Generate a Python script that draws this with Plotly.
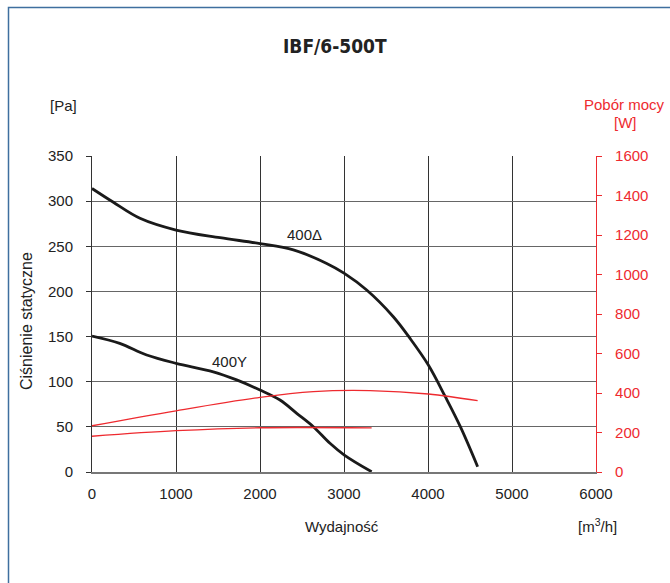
import plotly.graph_objects as go

# Data
flow_d = [0, 250, 571, 1000, 1524, 2000, 2397, 2794, 3004, 3270, 3587, 3786, 4004, 4206, 4385, 4591]
pres_d = [314, 299, 281, 268, 259.5, 253, 246, 231, 220, 201.6, 172, 148, 118.5, 83.4, 50.2, 5.9]

flow_y = [0, 330, 651, 1000, 1444, 1722, 2000, 2238, 2437, 2635, 2833, 3004, 3329]
pres_y = [150.6, 142.5, 129.6, 120.4, 111, 102, 90.8, 79.7, 65, 50.2, 31.8, 18.8, 0.3]

flow_pd = [0, 1000, 2000, 2635, 3310, 4004, 4591]
power_d = [234, 310, 378, 407, 412, 395, 361]

flow_py = [0, 1000, 2000, 3329]
power_y = [181, 209, 224, 223]

x_ticks = [0, 1000, 2000, 3000, 4000, 5000, 6000]
y_ticks = [0, 50, 100, 150, 200, 250, 300, 350]
y2_ticks = [0, 200, 400, 600, 800, 1000, 1200, 1400, 1600]

RED = "#ee2a2f"
BLACK = "#1a1a1a"
FONT = "Liberation Sans, Arial, sans-serif"
FS = 15

fig = go.Figure()
fig.add_trace(go.Scatter(x=flow_pd, y=power_d, mode="lines", yaxis="y2",
                         line=dict(color=RED, width=1.3, shape="spline"), hoverinfo="skip"))
fig.add_trace(go.Scatter(x=flow_py, y=power_y, mode="lines", yaxis="y2",
                         line=dict(color=RED, width=1.3, shape="spline"), hoverinfo="skip"))
fig.add_trace(go.Scatter(x=flow_d, y=pres_d, mode="lines",
                         line=dict(color=BLACK, width=2.8, shape="spline"), hoverinfo="skip"))
fig.add_trace(go.Scatter(x=flow_y, y=pres_y, mode="lines",
                         line=dict(color=BLACK, width=2.8, shape="spline"), hoverinfo="skip"))

fig.update_layout(
    width=670, height=583,
    margin=dict(l=92, r=74, t=156, b=111),
    paper_bgcolor="white", plot_bgcolor="white",
    showlegend=False,
    font=dict(family=FONT, size=FS, color="#222"),
    xaxis=dict(range=[0, 6000], tickvals=x_ticks, ticktext=[str(v) for v in x_ticks],
               showgrid=True, gridcolor="#333", gridwidth=1,
               showline=True, linecolor="#777", linewidth=1.5,
               ticks="", zeroline=False, ticklabelstandoff=7,
               tickfont=dict(size=FS)),
    yaxis=dict(range=[0, 350], tickvals=y_ticks, ticktext=[str(v) for v in y_ticks],
               showgrid=True, gridcolor="#666", gridwidth=1.3,
               showline=True, linecolor="#333", linewidth=1,
               ticks="outside", ticklen=5, tickcolor="#333", zeroline=False,
               ticklabelstandoff=10, tickfont=dict(size=FS)),
    yaxis2=dict(range=[0, 1600], tickvals=y2_ticks, ticktext=[str(v) for v in y2_ticks],
                overlaying="y", side="right", showgrid=False, zeroline=False,
                showline=True, linecolor=RED, linewidth=1.2,
                ticks="outside", ticklen=5, tickcolor=RED,
                ticklabelstandoff=10, tickfont=dict(color=RED, size=FS)),
)

fig.add_annotation(x=2531, y=263.6, text="400Δ", showarrow=False, font=dict(size=FS, color="#222"))
fig.add_annotation(x=1637, y=122.4, text="400Y", showarrow=False, font=dict(size=FS, color="#222"))


def px_x(p):
    return (p - 92) / 504.0


def px_y(p):
    return (472 - p) / 316.0


def label(px, py, text, size=FS, color="#222", family=None, angle=0):
    f = dict(size=size, color=color)
    if family:
        f["family"] = family
    fig.add_annotation(x=px_x(px), y=px_y(py), xref="paper", yref="paper", text=text,
                       xanchor="center", yanchor="middle", textangle=angle,
                       showarrow=False, font=f)


label(335, 46, "<b>IBF/6-500T</b>", size=19, family="DejaVu Sans Condensed, Liberation Sans, sans-serif")
label(63, 105, "[Pa]")
label(26, 321, "Ciśnienie statyczne", size=16, angle=-90)
label(624, 104, "Pobór mocy", color=RED)
label(625, 122, "[W]", color=RED)
label(342, 526, "Wydajność")
label(597, 525, "[m<sup>3</sup>/h]")

# Outer frame
fig.add_shape(type="rect", xref="paper", yref="paper",
              x0=px_x(8.5), x1=px_x(700), y0=px_y(620), y1=px_y(7.5),
              line=dict(color="#3f6f9f", width=1.5), fillcolor="rgba(0,0,0,0)", layer="below")

fig.write_html("out.html", config={"displayModeBar": False},
               post_script="document.body.style.margin='0';")
